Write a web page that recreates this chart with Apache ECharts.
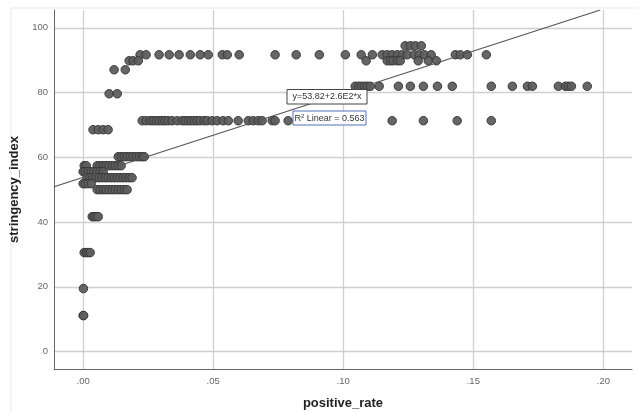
<!DOCTYPE html>
<html>
<head>
<meta charset="utf-8">
<script src="https://cdn.jsdelivr.net/npm/echarts@6/dist/echarts.min.js"></script>
<style>
html,body{margin:0;padding:0;background:#fff;}
#chart{width:639px;height:413px;}
</style>
</head>
<body>
<div id="chart"></div>
<script>
// stringency_index levels and the positive_rate values observed at each level
const rate_94_44 = [0.1238, 0.1258, 0.1277, 0.1300];
const rate_91_67 = [0.0219, 0.0242, 0.0292, 0.0331, 0.0369, 0.0412, 0.0450, 0.0481, 0.0535, 0.0554, 0.0600, 0.0738, 0.0819, 0.0908, 0.1008, 0.1069, 0.1112, 0.1150, 0.1169, 0.1188, 0.1208, 0.1227, 0.1246, 0.1273, 0.1292, 0.1312, 0.1338, 0.1431, 0.1450, 0.1477, 0.1550];
const rate_89_81 = [0.0177, 0.0192, 0.0212, 0.1088, 0.1169, 0.1181, 0.1192, 0.1208, 0.1219, 0.1288, 0.1327, 0.1358];
const rate_87_04 = [0.0119, 0.0162];
const rate_81_94 = [0.1046, 0.1058, 0.1069, 0.1081, 0.1092, 0.1104, 0.1138, 0.1212, 0.1258, 0.1308, 0.1362, 0.1419, 0.1569, 0.1650, 0.1708, 0.1727, 0.1827, 0.1854, 0.1865, 0.1877, 0.1938];
const rate_79_63 = [0.0100, 0.0131];
const rate_71_30 = [0.0227, 0.0242, 0.0258, 0.0269, 0.0281, 0.0292, 0.0304, 0.0315, 0.0327, 0.0342, 0.0362, 0.0381, 0.0392, 0.0404, 0.0415, 0.0427, 0.0438, 0.0450, 0.0465, 0.0477, 0.0496, 0.0515, 0.0538, 0.0558, 0.0596, 0.0635, 0.0654, 0.0673, 0.0688, 0.0727, 0.0738, 0.0788, 0.1188, 0.1308, 0.1438, 0.1569];
const rate_68_52 = [0.0038, 0.0058, 0.0077, 0.0096];
const rate_60_19 = [0.0135, 0.0146, 0.0158, 0.0169, 0.0181, 0.0192, 0.0204, 0.0215, 0.0227, 0.0235];
const rate_57_41 = [0.0004, 0.0012, 0.0054, 0.0065, 0.0077, 0.0088, 0.0100, 0.0112, 0.0123, 0.0135, 0.0146];
const rate_55_56 = [0.0000, 0.0008, 0.0019, 0.0031, 0.0042, 0.0054, 0.0065, 0.0077];
const rate_53_70 = [0.0015, 0.0027, 0.0038, 0.0050, 0.0062, 0.0073, 0.0085, 0.0096, 0.0108, 0.0119, 0.0131, 0.0142, 0.0154, 0.0165, 0.0177, 0.0188];
const rate_51_85 = [0.0000, 0.0008, 0.0019, 0.0031];
const rate_50_00 = [0.0054, 0.0065, 0.0077, 0.0088, 0.0100, 0.0112, 0.0123, 0.0135, 0.0146, 0.0158, 0.0169];
const rate_41_67 = [0.0035, 0.0042, 0.0050, 0.0058];
const rate_30_56 = [0.0004, 0.0012, 0.0019, 0.0027];
const rate_19_44 = [0.0001];
const rate_11_11 = [0.0000, 0.0002];

const levels = [
  [94.44, rate_94_44], [91.67, rate_91_67], [89.81, rate_89_81], [87.04, rate_87_04],
  [81.94, rate_81_94], [79.63, rate_79_63], [71.30, rate_71_30], [68.52, rate_68_52],
  [60.19, rate_60_19], [57.41, rate_57_41], [55.56, rate_55_56], [53.70, rate_53_70],
  [51.85, rate_51_85], [50.00, rate_50_00], [41.67, rate_41_67], [30.56, rate_30_56],
  [19.44, rate_19_44], [11.11, rate_11_11]
];

// fit line: y = 53.82 + 2.6E2 * x
const fitIntercept = 53.82;
const fitSlope = 260;
const fitRange = [-0.0112, 0.1988];

const xTicks = [0, 0.05, 0.10, 0.15, 0.20];
const yTicks = [0, 20, 40, 60, 80, 100];

const points = [];
levels.forEach(([lv, rates]) => rates.forEach(r => points.push([r, lv])));
const fitLine = fitRange.map(x => [x, fitIntercept + fitSlope * x]);

const chart = echarts.init(document.getElementById('chart'), null, {renderer: 'canvas'});
chart.setOption({
  animation: false,
  backgroundColor: '#ffffff',
  grid: {left: 54, right: 7, top: 10, bottom: 44, containLabel: false, outerBoundsMode: 'none'},
  xAxis: {
    type: 'value', min: -0.0112, max: 0.211,
    name: 'positive_rate', nameLocation: 'middle', nameGap: 28,
    nameTextStyle: {fontFamily: 'Liberation Sans', fontWeight: 'bold', fontSize: 13, color: '#222'},
    axisLine: {show: true, onZero: false, lineStyle: {color: '#666', width: 1}},
    axisTick: {show: false, customValues: xTicks},
    axisLabel: {customValues: xTicks, margin: 7, color: '#666', fontSize: 9.5, fontFamily: 'Liberation Sans',
      formatter: v => v.toFixed(2).replace(/^0/, '')},
    splitLine: {show: true, lineStyle: {color: '#d0d0d0', width: 1.3}}
  },
  yAxis: {
    type: 'value', min: -5.4, max: 105.5,
    name: 'stringency_index', nameLocation: 'middle', nameGap: 24, nameRotate: 90,
    nameTextStyle: {fontFamily: 'Liberation Sans', fontWeight: 'bold', fontSize: 13, color: '#222'},
    axisLine: {show: true, onZero: false, lineStyle: {color: '#666', width: 1}},
    axisTick: {show: false, customValues: yTicks},
    axisLabel: {customValues: yTicks, margin: 6, color: '#666', fontSize: 9.5, fontFamily: 'Liberation Sans'},
    splitLine: {show: true, lineStyle: {color: '#d0d0d0', width: 1.3}}
  },
  series: [
    {
      type: 'scatter', data: points, symbolSize: 8.5,
      itemStyle: {color: '#5e5e5e', borderColor: '#363636', borderWidth: 1, opacity: 0.95},
      z: 2
    },
    {
      type: 'line', data: fitLine, symbol: 'none', silent: true,
      lineStyle: {color: '#555', width: 1.2}, z: 3
    }
  ],
  graphic: [
    {type: 'line', shape: {x1: 11, y1: 8, x2: 639, y2: 8}, style: {stroke: '#e8e8e8', lineWidth: 1}},
    {type: 'line', shape: {x1: 11, y1: 8, x2: 11, y2: 413}, style: {stroke: '#e8e8e8', lineWidth: 1}},
    {type: 'rect', shape: {x: 287, y: 89.5, width: 80, height: 14.5},
     style: {fill: '#fff', stroke: '#444', lineWidth: 1}, z: 10},
    {type: 'text', x: 327, y: 97, z: 11,
     style: {text: 'y=53.82+2.6E2*x', fill: '#333', fontSize: 9, fontFamily: 'Liberation Sans', align: 'center', verticalAlign: 'middle'}},
    {type: 'rect', shape: {x: 293, y: 111, width: 73, height: 14},
     style: {fill: '#fff', stroke: '#5070b8', lineWidth: 1}, z: 10},
    {type: 'text', x: 329.5, y: 118.5, z: 11,
     style: {text: '{n|R}{s|2}{n| Linear = 0.563}', align: 'center', verticalAlign: 'middle',
       rich: {n: {fontSize: 9, fill: '#333', fontFamily: 'Liberation Sans'},
              s: {fontSize: 6, fill: '#333', fontFamily: 'Liberation Sans', verticalAlign: 'top', padding: [0, 0, 5, 0]}}}}
  ]
});
</script>
</body>
</html>
